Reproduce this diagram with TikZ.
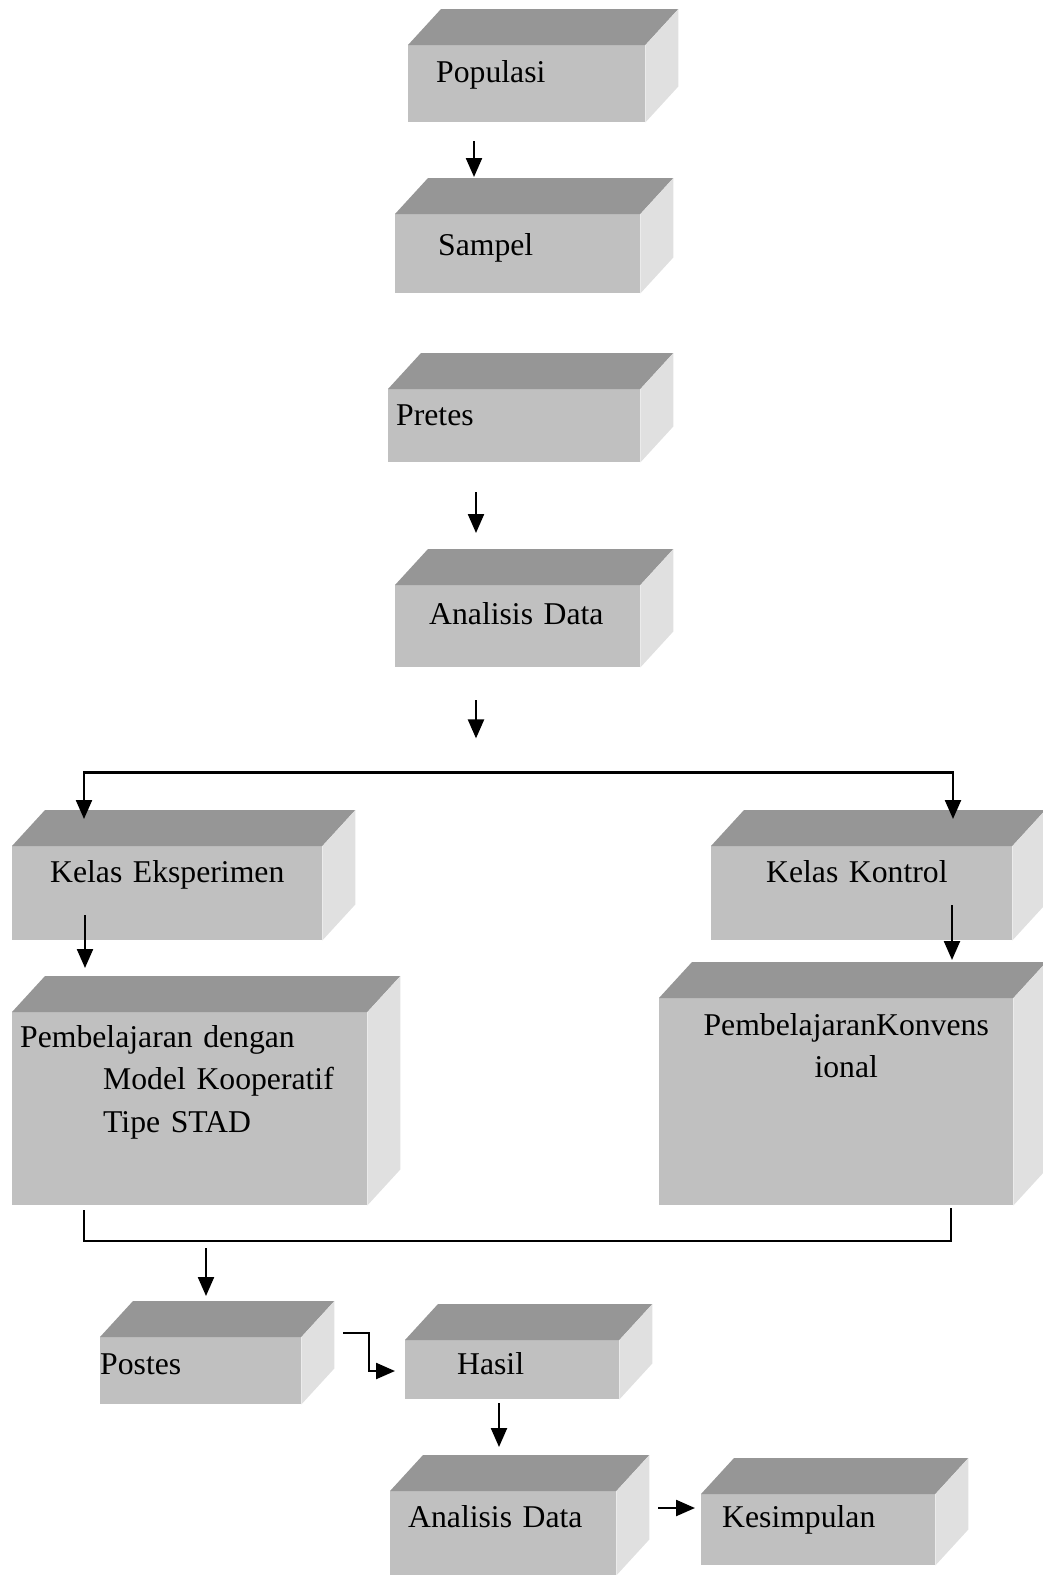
\documentclass[tikz,border=0pt]{standalone}
\usepackage{fontspec}
\setmainfont{Liberation Serif}
\usetikzlibrary{calc,arrows.meta}
\definecolor{FrontGray}{HTML}{C0C0C0}
\definecolor{TopGray}{HTML}{969696}
\definecolor{SideGray}{HTML}{E0E0E0}
\newcommand{\boxfont}{\fontsize{31.7}{42.5}\selectfont}

\begin{document}
\begin{tikzpicture}[x=1pt,y=-1pt,
  cube/.style={rectangle,fill=FrontGray,anchor=north west,inner xsep=0pt,inner ysep=0pt,align=left,font=\boxfont},
  arr/.style={-{Triangle[length=19pt,width=16pt]},line width=2.3pt},
  link/.style={line width=2pt}]
  \useasboundingbox (0,0) rectangle (1043,1575);
  % front faces
  \node[cube,text width=237pt,text height=37pt,text depth=40pt] (pop) at (408,45) {\hspace*{28pt}Populasi};
  \node[cube,text width=245pt,text height=41pt,text depth=38pt] (samp) at (395,214) {\hspace*{43pt}Sampel};
  \node[cube,text width=252pt,text height=36pt,text depth=37pt] (pret) at (388,389) {\hspace*{8pt}Pretes};
  \node[cube,text width=245pt,text height=39pt,text depth=43pt] (ana1) at (395,585) {\hspace*{34pt}Analisis Data};
  \node[cube,text width=310pt,text height=36pt,text depth=58pt] (kelE) at (12,846) {\hspace*{38pt}Kelas Eksperimen};
  \node[cube,text width=301pt,text height=36pt,text depth=58pt] (kelK) at (711,846) {\hspace*{55pt}Kelas Kontrol};
  \node[cube,text width=355pt,text height=35pt,text depth=158pt] (pemE) at (12,1012) {\hspace*{8pt}Pembelajaran dengan\\\hspace*{91pt}Model Kooperatif\\\hspace*{91pt}Tipe STAD};
  \node[cube,align=center,text width=354pt,text height=37pt,text depth=170pt] (pemK) at (659,998) {\hspace*{20pt}PembelajaranKonvens\\\hspace*{20pt}ional};
  \node[cube,text width=201pt,text height=37pt,text depth=30pt] (post) at (100,1337) {Postes};
  \node[cube,text width=214pt,text height=34pt,text depth=25pt] (hasil) at (405,1340) {\hspace*{52pt}Hasil};
  \node[cube,text width=226pt,text height=36pt,text depth=48pt] (ana2) at (390,1491) {\hspace*{18pt}Analisis Data};
  \node[cube,text width=234pt,text height=33pt,text depth=38pt] (kes) at (701,1494) {\hspace*{21pt}Kesimpulan};
  % top and side faces
  \foreach \n in {pop,samp,pret,ana1,kelE,kelK,pemE,pemK,post,hasil,ana2,kes}{
    \fill[TopGray] (\n.north west) -- ++(33,-36) -- ($(\n.north east)+(33,-36)$) -- (\n.north east) -- cycle;
    \fill[SideGray] (\n.north east) -- ++(33,-36) -- ($(\n.south east)+(33,-36)$) -- (\n.south east) -- cycle;
  }
  % connectors
  \coordinate (split) at ($(ana1.south west)+(81,71)$);
  \coordinate (fork) at ($(ana1.south west)+(81,105)$);
  \coordinate (merge) at ($(post.north west)+(106,-89)$);
  \draw[arr] ($(pop.south west)+(66,19)$) -- ($(samp.north west)+(79,-37)$);
  \draw[arr] ($(pret.south west)+(88,30)$) -- ($(ana1.north west)+(81,-52)$);
  \draw[arr] ($(ana1.south west)+(81,33)$) -- (split);
  \draw[arr] (fork) -| ($(kelE.north west)+(72,-27)$);
  \draw[arr] (fork) -| ($(kelK.north west)+(242,-27)$);
  \draw[arr] ($(kelE.south west)+(73,-25)$) -- ($(pemE.north west)+(73,-44)$);
  \draw[arr] ($(kelK.south west)+(241,-35)$) -- ($(pemK.north west)+(293,-38)$);
  \draw[link] ($(pemE.south west)+(72,5)$) |- ($(pemK.south west)+(292,36)$) -- ($(pemK.south west)+(292,3)$);
  \draw[arr] (merge) -- ($(post.north west)+(106,-41)$);
  \draw[arr] ($(post.north east)+(42,-4)$) -| ($(hasil.north west)+(-36,31)$) -- ($(hasil.north west)+(-10,31)$);
  \draw[arr] ($(hasil.south west)+(94,4)$) -- ($(ana2.north west)+(109,-44)$);
  \draw[arr] ($(ana2.north east)+(42,17)$) -- ($(kes.north west)+(-6,14)$);
\end{tikzpicture}
\end{document}
